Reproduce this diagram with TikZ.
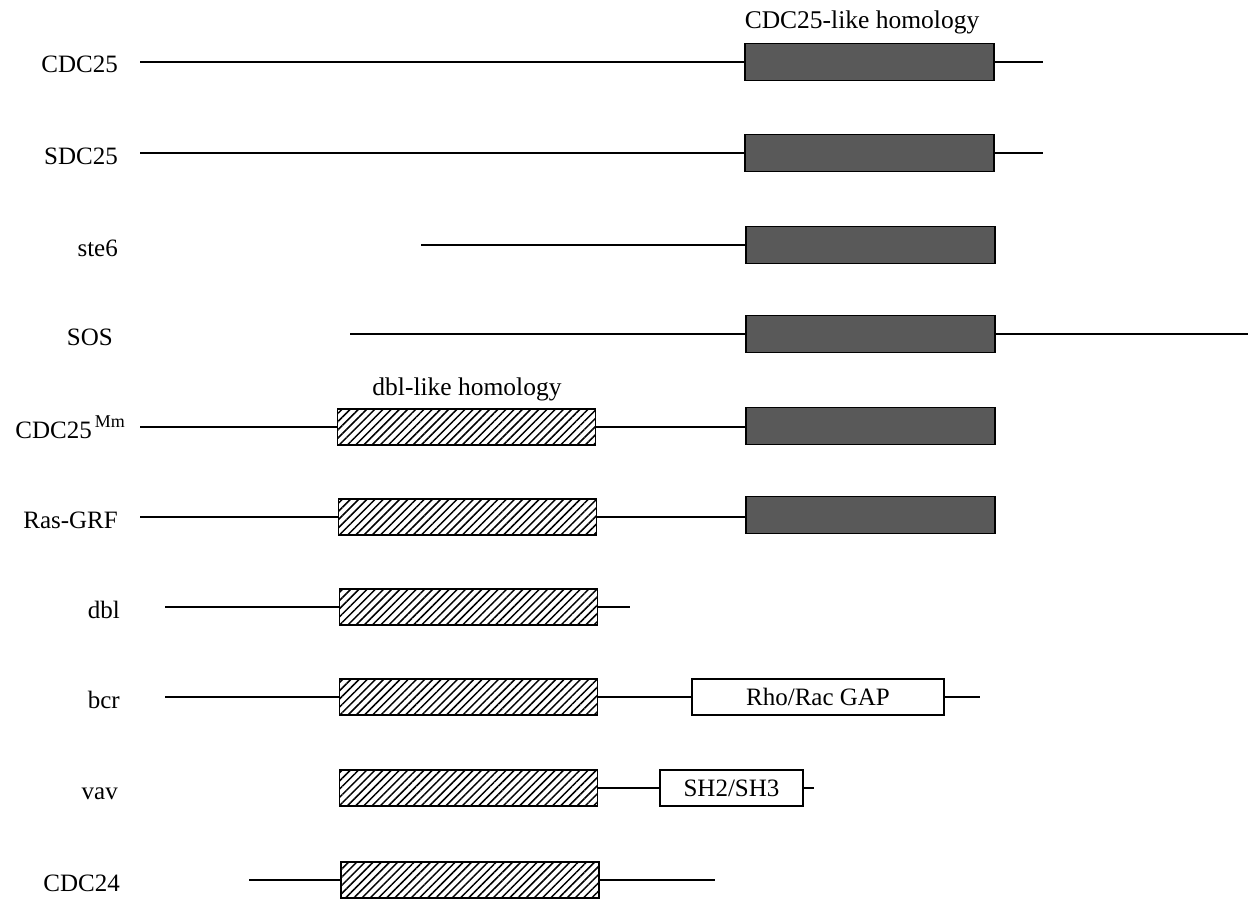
\documentclass[tikz,border=0pt]{standalone}
\usepackage{fontspec}
\setmainfont{Liberation Serif}
\usetikzlibrary{patterns.meta}
\tikzset{
  lbl/.style={anchor=base east, inner sep=0pt, font=\fontsize{25}{30}\selectfont},
  head/.style={anchor=base, inner sep=0pt, font=\fontsize{25.5}{31}\selectfont},
  ln/.style={line width=1.8pt},
  greybox/.style={draw, line width=1.6pt, fill=black!65, minimum height=37pt, minimum width=249pt, inner sep=0pt},
  hatchbox/.style={draw, line width=1.8pt, pattern={Lines[angle=45,distance=5.8pt,line width=1.5pt]}, minimum height=36pt, minimum width=258pt, inner sep=0pt},
  whitebox/.style={draw, line width=1.6pt, fill=white, minimum height=36pt, inner sep=0pt, font=\fontsize{25}{30}\selectfont},
}
\begin{document}
\begin{tikzpicture}[x=1pt,y=-1pt]
\useasboundingbox (0,0) rectangle (1255,899);

% headings
\node[head] (h1) at (862,29) {CDC25-like homology};
\node[head] (h2) at (467,395) {dbl-like homology};

% row 1: CDC25
\node[lbl] (l1) at (118,73) {CDC25};
\coordinate (a1) at (140,62);
\node[greybox] (g1) at (869.5,62) {};
\coordinate (b1) at (1043,62);
\draw[ln] (a1) -- (g1.west);
\draw[ln] (g1.east) -- (b1);

% row 2: SDC25
\node[lbl] (l2) at (118,164) {SDC25};
\coordinate (a2) at (140,153);
\node[greybox] (g2) at (869.5,153) {};
\coordinate (b2) at (1043,153);
\draw[ln] (a2) -- (g2.west);
\draw[ln] (g2.east) -- (b2);

% row 3: ste6
\node[lbl] (l3) at (118,256) {ste6};
\coordinate (a3) at (421,245);
\node[greybox] (g3) at (870.5,245) {};
\draw[ln] (a3) -- (g3.west);

% row 4: SOS
\node[lbl] (l4) at (113,345) {SOS};
\coordinate (a4) at (350,334);
\node[greybox] (g4) at (870.5,334) {};
\coordinate (b4) at (1248,334);
\draw[ln] (a4) -- (g4.west);
\draw[ln] (g4.east) -- (b4);

% row 5: CDC25^Mm
\node[lbl] (l5) at (125,438) {CDC25\hspace{3pt}\raisebox{11pt}{\fontsize{18}{20}\selectfont Mm}};
\coordinate (a5) at (140,427);
\node[hatchbox] (d5) at (466.5,427) {};
\node[greybox] (g5) at (870.5,426) {};
\draw[ln] (a5) -- (d5.west);
\draw[ln] (d5.east) -- (d5.east -| g5.west);

% row 6: Ras-GRF
\node[lbl] (l6) at (118,528) {Ras-GRF};
\coordinate (a6) at (140,517);
\node[hatchbox] (d6) at (467.5,517) {};
\node[greybox] (g6) at (870.5,515) {};
\draw[ln] (a6) -- (d6.west);
\draw[ln] (d6.east) -- (d6.east -| g6.west);

% row 7: dbl
\node[lbl] (l7) at (120,618) {dbl};
\coordinate (a7) at (165,607);
\node[hatchbox] (d7) at (468.5,607) {};
\coordinate (b7) at (630,607);
\draw[ln] (a7) -- (d7.west);
\draw[ln] (d7.east) -- (b7);

% row 8: bcr
\node[lbl] (l8) at (120,708) {bcr};
\coordinate (a8) at (165,697);
\node[hatchbox] (d8) at (468.5,697) {};
\node[whitebox, minimum width=252pt] (w8) at (818,697) {Rho/Rac GAP};
\coordinate (b8) at (980,697);
\draw[ln] (a8) -- (d8.west);
\draw[ln] (d8.east) -- (w8.west);
\draw[ln] (w8.east) -- (b8);

% row 9: vav
\node[lbl] (l9) at (118,799) {vav};
\node[hatchbox] (d9) at (468.5,788) {};
\node[whitebox, minimum width=143pt] (w9) at (731.5,788) {SH2/SH3};
\coordinate (b9) at (814,788);
\draw[ln] (d9.east) -- (w9.west);
\draw[ln] (w9.east) -- (b9);

% row 10: CDC24
\node[lbl] (l10) at (120,891) {CDC24};
\coordinate (a10) at (249,880);
\node[hatchbox] (d10) at (470,880) {};
\coordinate (b10) at (715,880);
\draw[ln] (a10) -- (d10.west);
\draw[ln] (d10.east) -- (b10);
\end{tikzpicture}
\end{document}
